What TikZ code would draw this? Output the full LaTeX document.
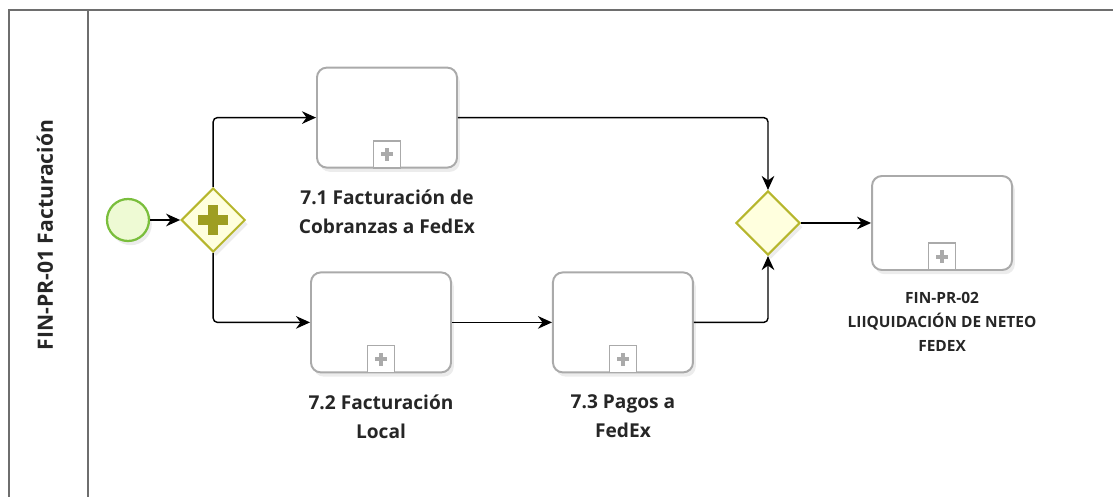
\documentclass[tikz,border=0pt]{standalone}
\usepackage{fontspec}
\setmainfont{Open Sans}
\definecolor{taskgray}{RGB}{170,170,170}
\definecolor{poolgray}{RGB}{110,110,110}
\definecolor{startgreen}{RGB}{122,190,60}
\definecolor{startfill}{RGB}{238,250,212}
\definecolor{gwolive}{RGB}{182,182,44}
\definecolor{gwfill}{RGB}{255,255,222}
\definecolor{plusolive}{RGB}{158,158,34}
\usetikzlibrary{
  arrows.meta,
  positioning,
  shadows,
  shapes.geometric,
}
\tikzset{
  >={Stealth[length=10pt,width=9pt]},
  flow/.style={->,line width=1pt,rounded corners=3pt},
  poolline/.style={draw=poolgray,line width=1.1pt},
  softshadow/.style={drop shadow={shadow xshift=2pt,shadow yshift=-3pt,opacity=0.15}},
  task/.style={draw=taskgray,line width=1.4pt,rounded corners=7pt,fill=white,
    minimum width=3.5cm,minimum height=2.5cm,softshadow},
  marker/.style={draw=taskgray,line width=1.1pt,fill=white,minimum size=0.675cm,inner sep=0,
    path picture={
      \fill[taskgray] ([xshift=-0.16cm,yshift=-0.05cm]path picture bounding box.center)
        rectangle ([xshift=0.16cm,yshift=0.05cm]path picture bounding box.center);
      \fill[taskgray] ([xshift=-0.05cm,yshift=-0.16cm]path picture bounding box.center)
        rectangle ([xshift=0.05cm,yshift=0.16cm]path picture bounding box.center);
    }},
  startev/.style={circle,draw=startgreen,line width=1.6pt,fill=startfill,minimum size=1.05cm,
    inner sep=0,softshadow},
  gateway/.style={diamond,draw=gwolive,line width=1.5pt,fill=gwfill,minimum width=1.6cm,
    minimum height=1.6cm,inner sep=0,softshadow},
  plusmark/.style={path picture={
      \fill[plusolive] ([xshift=-0.37cm,yshift=-0.12cm]path picture bounding box.center)
        rectangle ([xshift=0.37cm,yshift=0.12cm]path picture bounding box.center);
      \fill[plusolive] ([xshift=-0.12cm,yshift=-0.37cm]path picture bounding box.center)
        rectangle ([xshift=0.12cm,yshift=0.37cm]path picture bounding box.center);
    }},
  tasklabel/.style={align=center,font=\bfseries\fontsize{13.6}{20.5}\selectfont,text=black!85},
  smalllabel/.style={align=center,font=\bfseries\fontsize{11}{17}\selectfont,text=black!85},
}

\begin{document}
\begin{tikzpicture}[node distance=5mm and 5mm]

    \useasboundingbox (0,0) rectangle (27.825,-12.425);

    % pool and lane
    \draw[poolline] (0.225,-12.6) |- (27.9,-0.25);
    \draw[poolline] (2.2,-0.25) -- (2.2,-12.6);
    \node[rotate=90,font=\bfseries\fontsize{15}{17}\selectfont,text=black!85] (lane) at (1.125,-5.875) {FIN-PR-01 Facturación};

    % events and gateways
    \node[startev]                      (start)                     at (3.2,-5.5)     {};
    \node[gateway,plusmark]             (gw1)   [right=0.75cm of start]               {};
    \node[gateway]                      (gw2)                       at (19.2,-5.575)  {};

    % tasks
    \node[task]                         (t71)                       at (9.675,-2.94)  {};
    \node[task]                         (t72)                       at (9.525,-8.06)  {};
    \node[task]                         (t73)   [right=2.5cm of t72]                  {};
    \node[task,minimum height=2.35cm]   (tfin)  [right=1.75cm of gw2]                 {};

    \foreach \t in {t71,t72,t73,tfin}
        \node[marker,anchor=south] (m-\t) at (\t.south) {};

    % labels
    \node[tasklabel]  (l71)  [below=0.42cm of t71]  {7.1 Facturación de\\Cobranzas a FedEx};
    \node[tasklabel]  (l72)  [below=0.42cm of t72]  {7.2 Facturación\\Local};
    \node[tasklabel]  (l73)  [below=0.42cm of t73]  {7.3 Pagos a\\FedEx};
    \node[smalllabel] (lfin) [below=0.42cm of tfin] {FIN-PR-02\\LIIQUIDACIÓN DE NETEO\\FEDEX};

    % flows
    \draw[flow] (start) -- (gw1);
    \draw[flow] (gw1.north) |- (t71.west);
    \draw[flow] (gw1.south) |- (t72.west);
    \draw[flow] (t71.east) -| (gw2.north);
    \draw[flow] (t72) -- (t73);
    \draw[flow] (t73.east) -| (gw2.south);
    \draw[flow] (gw2) -- (tfin);

\end{tikzpicture}
\end{document}
